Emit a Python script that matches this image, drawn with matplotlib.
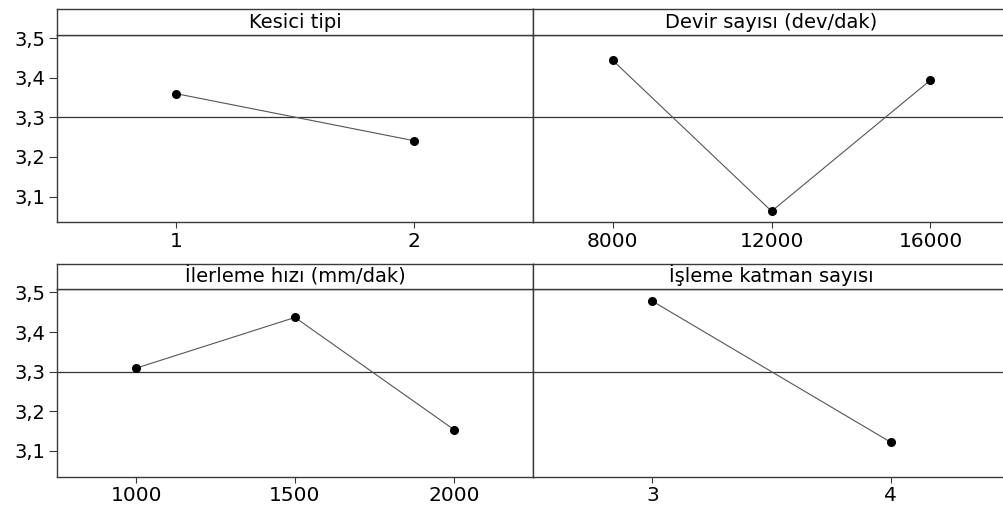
import numpy as np
import matplotlib.pyplot as plt

# -----------------------------------
# DATA
# -----------------------------------

panel_titles = [
    "Kesici tipi",
    "Devir sayısı (dev/dak)",
    "İlerleme hızı (mm/dak)",
    "İşleme katman sayısı",
]

kesici_levels = ["1", "2"]
kesici_means = [3.360, 3.241]

devir_levels = ["8000", "12000", "16000"]
devir_means = [3.444, 3.063, 3.394]

ilerleme_levels = ["1000", "1500", "2000"]
ilerleme_means = [3.309, 3.437, 3.154]

katman_levels = ["3", "4"]
katman_means = [3.478, 3.122]

grand_mean = 3.30

y_ticks = [3.1, 3.2, 3.3, 3.4, 3.5]

# -----------------------------------
# FIGURE
# -----------------------------------

W, H = 1004, 511
fig = plt.figure(figsize=(W / 100, H / 100), dpi=100)

frame_color = "#3a3a3a"


def px_box(x0, y_top, width, height):
    return [x0 / W, (H - y_top - height) / H, width / W, height / H]


col_x = [56.7, 533.3]
col_w = 476.6
rows = [
    # strip top, strip bottom, axes bottom
    (9.3, 35.0, 222.3),
    (264.0, 289.3, 476.7),
]

panels = [
    (kesici_levels, kesici_means),
    (devir_levels, devir_means),
    (ilerleme_levels, ilerleme_means),
    (katman_levels, katman_means),
]

for i, (levels, means) in enumerate(panels):
    r, c = divmod(i, 2)
    strip_top, strip_bot, ax_bot = rows[r]
    x0 = col_x[c]

    ax = fig.add_axes(px_box(x0, strip_bot, col_w, ax_bot - strip_bot))
    pos = np.arange(1, len(levels) + 1)

    ax.axhline(grand_mean, color="#333333", linewidth=0.9, zorder=1)
    ax.plot(pos, means, color="#555555", linewidth=0.8, zorder=2)
    ax.plot(pos, means, linestyle="none", marker="o",
            markersize=5.5, color="black", zorder=3)

    ax.set_xlim(0.5, len(levels) + 0.5)
    ax.set_ylim(3.035, 3.508)
    ax.set_xticks(pos)
    ax.set_xticklabels(levels, fontsize=14.5)
    ax.tick_params(axis="x", direction="out", length=4, width=0.8,
                   colors=frame_color, labelcolor="black", pad=3)

    if c == 0:
        ax.set_yticks(y_ticks)
        ax.set_yticklabels([f"{v:.1f}".replace(".", ",") for v in y_ticks],
                           fontsize=14)
        ax.tick_params(axis="y", direction="out", length=6, width=0.8,
                       colors=frame_color, labelcolor="black", pad=2)
    else:
        ax.set_yticks([])

    for s in ax.spines.values():
        s.set_color(frame_color)
        s.set_linewidth(1.0)

    # title strip
    sax = fig.add_axes(px_box(x0, strip_top, col_w, strip_bot - strip_top))
    sax.set_xticks([])
    sax.set_yticks([])
    for s in sax.spines.values():
        s.set_color(frame_color)
        s.set_linewidth(1.0)
    sax.text(0.5, 0.28, panel_titles[i], ha="center", va="baseline",
             fontsize=14, transform=sax.transAxes)

plt.savefig("out.png", dpi=100)
plt.close()
